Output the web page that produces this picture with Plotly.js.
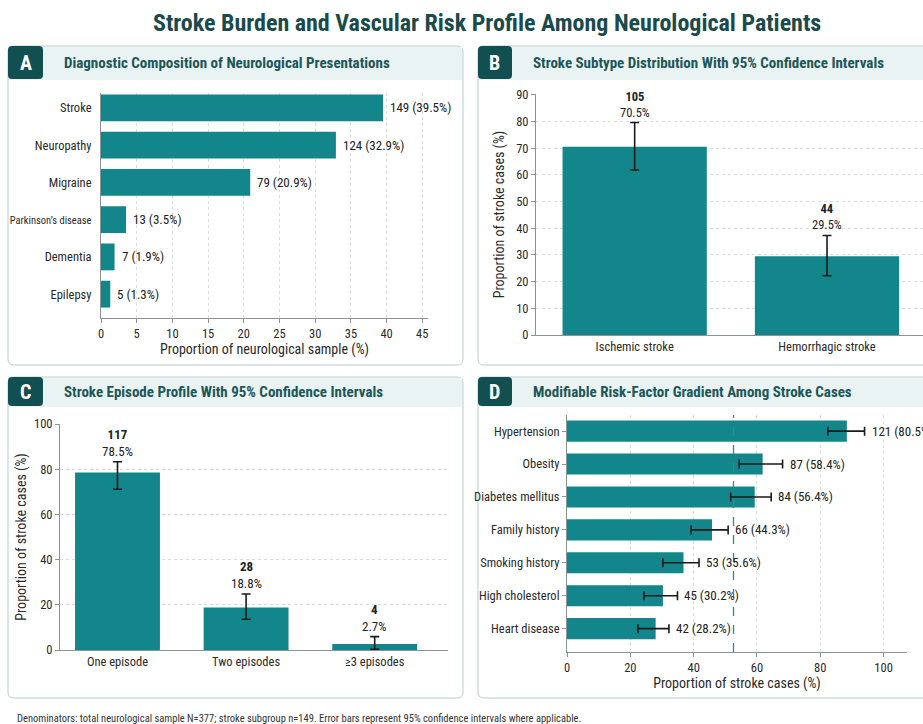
<!DOCTYPE html>
<html>
<head>
<meta charset="utf-8">
<script src="https://cdn.plot.ly/plotly-3.0.1.min.js"></script>
<style>
html,body{margin:0;padding:0;background:#ffffff;}
#chart{width:923px;height:724px;}
</style>
</head>
<body>
<div id="chart"></div>
<script>
// ---------------- DATA ----------------
// Panel A: diagnostic composition (N = 377)
const diagCats = ["Stroke", "Neuropathy", "Migraine", "Parkinson\u2019s disease", "Dementia", "Epilepsy"];
const diagN    = [149, 124, 79, 13, 7, 5];
const diagPct  = [39.5, 32.9, 20.9, 3.5, 1.9, 1.3];

// Panel B: stroke subtype (n = 149)
const subCats = ["Ischemic stroke", "Hemorrhagic stroke"];
const subN    = [105, 44];
const subPct  = [70.5, 29.5];
const subLo   = [61.8, 22.2];
const subHi   = [79.6, 37.3];

// Panel C: stroke episodes
const epCats = ["One episode", "Two episodes", "\u22653 episodes"];
const epN    = [117, 28, 4];
const epPct  = [78.5, 18.8, 2.7];
const epLo   = [71.1, 13.6, 0.3];
const epHi   = [83.3, 24.8, 5.9];

// Panel D: modifiable risk factors among stroke cases
const riskCats  = ["Hypertension", "Obesity", "Diabetes mellitus", "Family history", "Smoking history", "High cholesterol", "Heart disease"];
const riskN     = [121, 87, 84, 66, 53, 45, 42];
const riskLabelPct = [80.5, 58.4, 56.4, 44.3, 35.6, 30.2, 28.2];
const riskBar   = [88.4, 61.8, 59.3, 45.8, 36.8, 30.3, 28.0];
const riskLo    = [82.4, 54.4, 51.7, 39.2, 30.3, 24.3, 22.4];
const riskHi    = [94.0, 68.1, 64.5, 50.9, 41.7, 34.9, 32.2];
const riskRef   = 52.6;

const mainTitle = "Stroke Burden and Vascular Risk Profile Among Neurological Patients";
const panelTitles = [
  "Diagnostic Composition of Neurological Presentations",
  "Stroke Subtype Distribution With 95% Confidence Intervals",
  "Stroke Episode Profile With 95% Confidence Intervals",
  "Modifiable Risk-Factor Gradient Among Stroke Cases"
];
const panelLetters = ["A", "B", "C", "D"];
const footnote = "Denominators: total neurological sample N=377; stroke subgroup n=149. Error bars represent 95% confidence intervals where applicable.";

// ---------------- STYLE ----------------
const W = 923, H = 724;
const FONT = "'Liberation Sans Narrow', 'Arial Narrow', 'Roboto Condensed', Roboto, sans-serif";
const TEAL = "#12868a";
const DARK = "#124f50";
const TXT = "#222222";
const GRID = "#d9dddd";
const AX = "#8a9494";
const px = v => v / W;
const py = v => 1 - v / H;

function rrect(x0, y0, x1, y1, r) {
  const rx = r / W, ry = r / H;
  const X0 = px(x0), X1 = px(x1), Y0 = py(y0), Y1 = py(y1);
  return `M ${X0 + rx},${Y0} L ${X1 - rx},${Y0} Q ${X1},${Y0} ${X1},${Y0 - ry} ` +
         `L ${X1},${Y1 + ry} Q ${X1},${Y1} ${X1 - rx},${Y1} L ${X0 + rx},${Y1} ` +
         `Q ${X0},${Y1} ${X0},${Y1 + ry} L ${X0},${Y0 - ry} Q ${X0},${Y0} ${X0 + rx},${Y0} Z`;
}

// panel geometry (pixels): [left, top, right, bottom, headerBottom, letterRight]
const panels = [
  [8, 46, 463, 365, 80, 43],
  [478, 46, 935, 365, 80, 512],
  [8, 377, 463, 698, 407, 43],
  [478, 377, 935, 698, 407, 512]
];

const shapes = [];
const annotations = [];
panels.forEach((p, i) => {
  const [l, t, r, b, hb, lr] = p;
  shapes.push({type: "path", xref: "paper", yref: "paper", path: rrect(l, t, r, b, 6),
               fillcolor: "#ffffff", line: {color: "#b8cccc", width: 1}, layer: "below"});
  shapes.push({type: "rect", xref: "paper", yref: "paper", x0: px(l + 1), x1: px(r - 1), y0: py(hb), y1: py(t + 1),
               fillcolor: "#e9f3f3", line: {width: 0}, layer: "below"});
  shapes.push({type: "path", xref: "paper", yref: "paper", path: rrect(l, t, lr, hb - 1, 4),
               fillcolor: DARK, line: {width: 0}, layer: "below"});
  annotations.push({xref: "paper", yref: "paper", x: px((l + lr) / 2), y: py((t + hb) / 2), text: panelLetters[i],
                    showarrow: false, xanchor: "center", yanchor: "middle",
                    font: {family: FONT, size: 20, color: "#ffffff", weight: 700}});
  annotations.push({xref: "paper", yref: "paper", x: px(lr + 19), y: py((t + hb) / 2), text: panelTitles[i],
                    showarrow: false, xanchor: "left", yanchor: "middle",
                    font: {family: FONT, size: 15, color: "#1d5657", weight: 700}});
});

annotations.push({xref: "paper", yref: "paper", x: px(487), y: py(23), text: mainTitle, showarrow: false,
                  xanchor: "center", yanchor: "middle", font: {family: FONT, size: 24, color: "#1a4a4b", weight: 700}});
annotations.push({xref: "paper", yref: "paper", x: px(15), y: py(718), text: footnote, showarrow: false,
                  xanchor: "left", yanchor: "middle", font: {family: FONT, size: 10.5, color: "#333333"}});

// ---------------- TRACES ----------------
const errStyle = {color: "#1a1a1a", thickness: 1.6, width: 4.5};

const traceA = {
  type: "bar", orientation: "h", x: diagPct, y: diagCats, xaxis: "x", yaxis: "y",
  marker: {color: TEAL}, width: 0.72, hoverinfo: "x+y"
};
diagCats.forEach((c, i) => annotations.push({
  xref: "x", yref: "y", x: diagPct[i], y: c, text: `${diagN[i]} (${diagPct[i].toFixed(1)}%)`,
  showarrow: false, xanchor: "left", yanchor: "middle", xshift: 5,
  font: {family: FONT, size: 13, color: TXT}
}));

const traceB = {
  type: "bar", x: subCats, y: subPct, xaxis: "x2", yaxis: "y2", marker: {color: TEAL}, width: 0.75,
  error_y: Object.assign({type: "data", symmetric: false,
    array: subHi.map((h, i) => h - subPct[i]), arrayminus: subLo.map((lo, i) => subPct[i] - lo)}, errStyle)
};
subCats.forEach((c, i) => {
  annotations.push({xref: "x2", yref: "y2", x: c, y: subHi[i],
    text: `<b>${subN[i]}</b><br>${subPct[i].toFixed(1)}%`, showarrow: false,
    xanchor: "center", yanchor: "bottom", yshift: 1, font: {family: FONT, size: 12.5, color: TXT}});
});

const traceC = {
  type: "bar", x: epCats, y: epPct, xaxis: "x3", yaxis: "y3", marker: {color: TEAL}, width: 0.66,
  error_y: Object.assign({type: "data", symmetric: false,
    array: epHi.map((h, i) => h - epPct[i]), arrayminus: epLo.map((lo, i) => epPct[i] - lo)}, errStyle)
};
epCats.forEach((c, i) => {
  annotations.push({xref: "x3", yref: "y3", x: c, y: epHi[i],
    text: `<b>${epN[i]}</b><br>${epPct[i].toFixed(1)}%`, showarrow: false,
    xanchor: "center", yanchor: "bottom", yshift: 1, font: {family: FONT, size: 13, color: TXT}});
});

const traceD = {
  type: "bar", orientation: "h", x: riskBar, y: riskCats, xaxis: "x4", yaxis: "y4",
  marker: {color: TEAL}, width: 0.64,
  error_x: Object.assign({type: "data", symmetric: false,
    array: riskHi.map((h, i) => h - riskBar[i]), arrayminus: riskLo.map((lo, i) => riskBar[i] - lo)}, errStyle)
};
riskCats.forEach((c, i) => annotations.push({
  xref: "x4", yref: "y4", x: riskHi[i], y: c, text: `${riskN[i]} (${riskLabelPct[i].toFixed(1)}%)`,
  showarrow: false, xanchor: "left", yanchor: "middle", xshift: 5,
  font: {family: FONT, size: 13, color: TXT}
}));
shapes.push({type: "line", xref: "x4", yref: "y4 domain", x0: riskRef, x1: riskRef, y0: 0, y1: 1,
             line: {color: "#2b8c93", width: 1.3, dash: "dash"}});

// ---------------- AXES ----------------
const tickFont = {family: FONT, size: 12.5, color: "#2a2a2a"};
const titleFont = {family: FONT, size: 14, color: "#2a2a2a"};
function ax(extra) {
  return Object.assign({showline: true, linecolor: AX, linewidth: 1, ticks: "outside", ticklen: 4,
    tickcolor: AX, tickfont: tickFont, zeroline: false, fixedrange: true, automargin: false}, extra);
}

const layout = {
  width: W, height: H, margin: {l: 0, r: 0, t: 0, b: 0},
  paper_bgcolor: "#ffffff", plot_bgcolor: "rgba(0,0,0,0)", showlegend: false,
  font: {family: FONT, color: TXT},
  xaxis: ax({domain: [px(101), px(428)], anchor: "y", range: [0, 45.8], dtick: 5, tick0: 0,
    showgrid: true, gridcolor: GRID, griddash: "dot",
    title: {text: "Proportion of neurological sample (%)", font: titleFont, standoff: 4}}),
  yaxis: ax({domain: [py(318), py(93)], anchor: "x", type: "category", range: [5.64, -0.4], showgrid: false,
    ticks: "", ticklabelstandoff: 6,
    tickvals: diagCats,
    ticktext: diagCats.map(c => c.length > 12 ? `<span style="font-size:10.5px">${c}</span>` : c)}),
  xaxis2: ax({domain: [px(536), 1], anchor: "y2", type: "category", range: [-0.513, 1.499], showgrid: false, ticks: ""}),
  yaxis2: ax({domain: [py(335), py(94)], anchor: "x2", range: [0, 90.3], dtick: 10, showgrid: true,
    gridcolor: GRID, griddash: "dot",
    title: {text: "Proportion of stroke cases (%)", font: titleFont, standoff: 8}}),
  xaxis3: ax({domain: [px(60), px(448)], anchor: "y3", type: "category", range: [-0.447, 2.57], showgrid: false, ticks: ""}),
  yaxis3: ax({domain: [py(650), py(424)], anchor: "x3", range: [0, 100], dtick: 20, showgrid: true,
    gridcolor: GRID, griddash: "dot",
    title: {text: "Proportion of stroke cases (%)", font: titleFont, standoff: 4}}),
  xaxis4: ax({domain: [px(567), px(907)], anchor: "y4", range: [0, 107.4], dtick: 20, showgrid: true,
    gridcolor: GRID, griddash: "dot",
    title: {text: "Proportion of stroke cases (%)", font: titleFont, standoff: 4}}),
  yaxis4: ax({domain: [py(652), py(415)], anchor: "x4", type: "category", range: [6.71, -0.49], showgrid: false}),
  shapes: shapes,
  annotations: annotations
};

Plotly.newPlot("chart", [traceA, traceB, traceC, traceD], layout, {displayModeBar: false, staticPlot: true});
</script>
</body>
</html>
